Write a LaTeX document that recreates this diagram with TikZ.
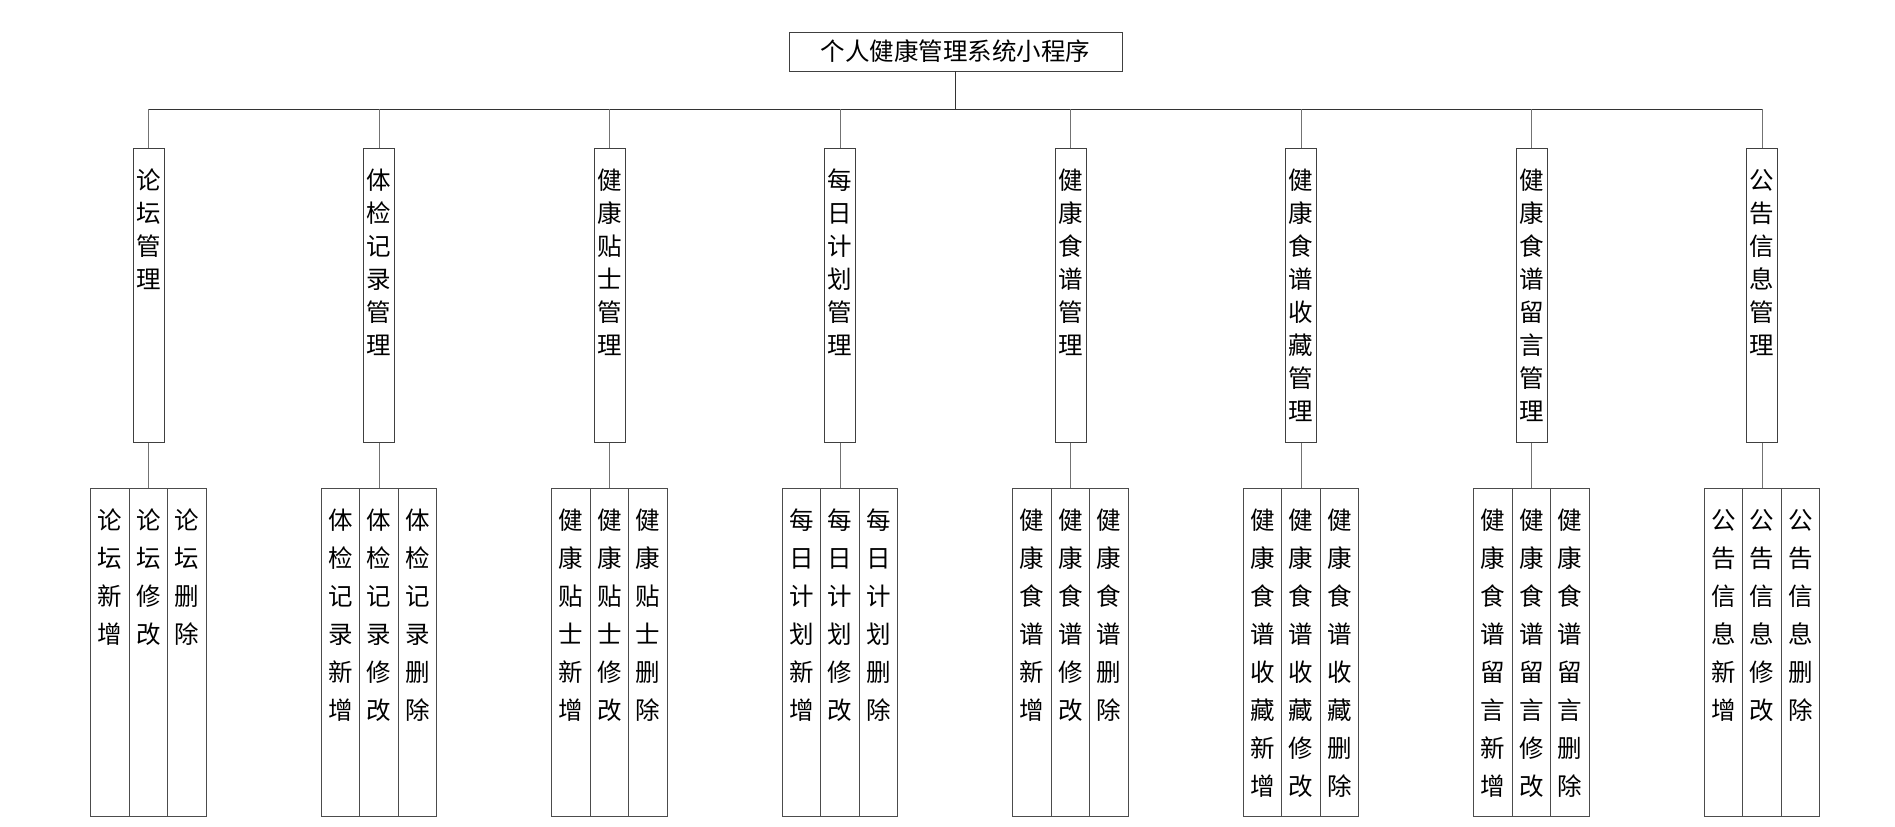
\documentclass[tikz,border=0pt]{standalone}
\usepackage{fontspec}
\newfontfamily\cjk{Noto Sans CJK SC}
\usepackage{tikz}
\usetikzlibrary{positioning}

\begin{document}
\begin{tikzpicture}[
    x=1pt, y=-1pt,
    font=\cjk\fontsize{24.5pt}{33pt}\selectfont,
    root/.style={draw=black!75, line width=0.9pt, minimum width=333pt,
        minimum height=39pt, inner sep=0pt},
    module/.style={draw=black!75, line width=0.9pt, anchor=north,
        text width=31pt, align=center, inner xsep=0pt, inner ysep=20pt,
        text height=21.5pt, text depth=232.5pt},
    func/.style={draw=black!70, line width=0.9pt, anchor=north,
        font=\cjk\fontsize{24.5pt}{38pt}\selectfont,
        text width=38.5pt, align=center, inner xsep=0pt, inner ysep=20pt,
        text height=21.5pt, text depth=266.5pt},
    link/.style={draw=black!55, line width=1pt},
    trunk/.style={draw=black!80, line width=0.9pt},
]
\useasboundingbox (0,0) rectangle (1895,827);

% === Root ===
\node[root] (root) at (955.5, 51.5) {个人健康管理系统小程序};
\coordinate (bus) at (0, 109);

% === Modules ===
\node[module] (forum)  at (148.5, 148)  {论\\坛\\管\\理};
\node[module] (exam)   at (379, 148)    {体\\检\\记\\录\\管\\理};
\node[module] (tips)   at (609.5, 148)  {健\\康\\贴\\士\\管\\理};
\node[module] (plan)   at (840, 148)    {每\\日\\计\\划\\管\\理};
\node[module] (recipe) at (1070.5, 148) {健\\康\\食\\谱\\管\\理};
\node[module] (fav)    at (1301, 148)   {健\\康\\食\\谱\\收\\藏\\管\\理};
\node[module] (msg)    at (1531.5, 148) {健\\康\\食\\谱\\留\\言\\管\\理};
\node[module] (notice) at (1762, 148)   {公\\告\\信\\息\\管\\理};

\draw[trunk] (root.south) -- (root.south |- bus);
\draw[trunk] (forum.north |- bus) -- (notice.north |- bus);
\draw[link] (forum.north) -- (forum.north |- bus);
\draw[link] (exam.north) -- (exam.north |- bus);
\draw[link] (tips.north) -- (tips.north |- bus);
\draw[link] (plan.north) -- (plan.north |- bus);
\draw[link] (recipe.north) -- (recipe.north |- bus);
\draw[link] (fav.north) -- (fav.north |- bus);
\draw[link] (msg.north) -- (msg.north |- bus);
\draw[link] (notice.north) -- (notice.north |- bus);

% === Forum ===
\node[func] (forumAdd)  at (110, 488) {论\\坛\\新\\增};
\node[func] (forumEdit) at (148.5, 488) {论\\坛\\修\\改};
\node[func] (forumDel)  at (187, 488) {论\\坛\\删\\除};
\draw[link] (forum) -- (forumEdit);

% === Exam records ===
\node[func] (examAdd)  at (340.5, 488) {体\\检\\记\\录\\新\\增};
\node[func] (examEdit) at (379, 488) {体\\检\\记\\录\\修\\改};
\node[func] (examDel)  at (417.5, 488) {体\\检\\记\\录\\删\\除};
\draw[link] (exam) -- (examEdit);

% === Health tips ===
\node[func] (tipsAdd)  at (571, 488) {健\\康\\贴\\士\\新\\增};
\node[func] (tipsEdit) at (609.5, 488) {健\\康\\贴\\士\\修\\改};
\node[func] (tipsDel)  at (648, 488) {健\\康\\贴\\士\\删\\除};
\draw[link] (tips) -- (tipsEdit);

% === Daily plan ===
\node[func] (planAdd)  at (801.5, 488) {每\\日\\计\\划\\新\\增};
\node[func] (planEdit) at (840, 488) {每\\日\\计\\划\\修\\改};
\node[func] (planDel)  at (878.5, 488) {每\\日\\计\\划\\删\\除};
\draw[link] (plan) -- (planEdit);

% === Recipes ===
\node[func] (recipeAdd)  at (1032, 488) {健\\康\\食\\谱\\新\\增};
\node[func] (recipeEdit) at (1070.5, 488) {健\\康\\食\\谱\\修\\改};
\node[func] (recipeDel)  at (1109, 488) {健\\康\\食\\谱\\删\\除};
\draw[link] (recipe) -- (recipeEdit);

% === Recipe favourites ===
\node[func] (favAdd)  at (1262.5, 488) {健\\康\\食\\谱\\收\\藏\\新\\增};
\node[func] (favEdit) at (1301, 488) {健\\康\\食\\谱\\收\\藏\\修\\改};
\node[func] (favDel)  at (1339.5, 488) {健\\康\\食\\谱\\收\\藏\\删\\除};
\draw[link] (fav) -- (favEdit);

% === Recipe messages ===
\node[func] (msgAdd)  at (1493, 488) {健\\康\\食\\谱\\留\\言\\新\\增};
\node[func] (msgEdit) at (1531.5, 488) {健\\康\\食\\谱\\留\\言\\修\\改};
\node[func] (msgDel)  at (1570, 488) {健\\康\\食\\谱\\留\\言\\删\\除};
\draw[link] (msg) -- (msgEdit);

% === Notices ===
\node[func] (noticeAdd)  at (1723.5, 488) {公\\告\\信\\息\\新\\增};
\node[func] (noticeEdit) at (1762, 488) {公\\告\\信\\息\\修\\改};
\node[func] (noticeDel)  at (1800.5, 488) {公\\告\\信\\息\\删\\除};
\draw[link] (notice) -- (noticeEdit);

\end{tikzpicture}
\end{document}
